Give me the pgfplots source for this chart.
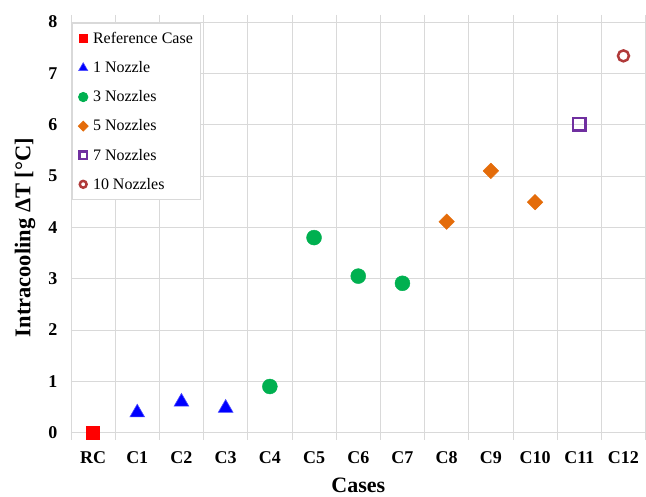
\documentclass[border=0pt]{standalone}
\usepackage{fontspec}
\setmainfont{Liberation Serif}
\usepackage{pgfplots}
\pgfplotsset{compat=1.18}
\definecolor{gridc}{HTML}{D9D9D9}
\definecolor{cred}{HTML}{FF0000}
\definecolor{cblue}{HTML}{0000FF}
\definecolor{cgreen}{HTML}{00B050}
\definecolor{corange}{HTML}{E46C0A}
\definecolor{cpurple}{HTML}{7030A0}
\definecolor{cbrown}{HTML}{B03A3A}
\begin{document}
\begin{tikzpicture}
\begin{axis}[
  scale only axis,
  width=575pt, height=411pt,
  xmin=-0.5, xmax=12.5, ymin=0, ymax=8,
  xtick={0,...,12},
  xticklabels={RC,C1,C2,C3,C4,C5,C6,C7,C8,C9,C10,C11,C12},
  minor xtick={-0.5,0.5,...,12.5},
  ytick={0,...,8},
  xminorgrids=true, ymajorgrids=true,
  grid style={gridc, line width=0.9pt},
  minor grid style={gridc, line width=0.9pt},
  axis line style={draw=gridc, line width=0.9pt},
  major tick length=0pt,
  minor tick length=7pt,
  tick align=outside,
  minor tick style={gridc, line width=0.9pt},
  every tick/.style={gridc},
  xticklabel style={font=\fontsize{18}{21}\selectfont\bfseries, anchor=base, yshift=-31pt},
  yticklabel style={font=\fontsize{18}{21}\selectfont\bfseries, xshift=-10pt},
  /pgf/number format/assume math mode=true,
  xlabel={Cases},
  ylabel={Intracooling ΔT [°C]},
  xlabel style={font=\fontsize{22}{26}\selectfont\bfseries, at={([yshift=-60pt]rel axis cs:0.5,0)}, anchor=base},
  ylabel style={font=\fontsize{22.5}{26}\selectfont\bfseries, at={([xshift=-46pt]rel axis cs:0,0.475)}, anchor=center},
  legend style={at={(rel axis cs:0,1)}, anchor=north west, draw=gridc, line width=0.9pt,
    fill=white, font=\fontsize{16}{19}\selectfont, row sep=12.5pt,
    inner xsep=6pt, inner ysep=7pt, xshift=1pt, yshift=-1pt},
  legend cell align=left,
  legend image post style={/tikz/every mark/.append style={scale=0.62}},
  clip=false,
]
\addplot[only marks, mark=square*, mark size=6.5pt, color=cred] coordinates {(0,0)};
\addlegendentry{\hspace{3pt}Reference Case\hspace{4pt}}
\addplot[only marks, mark=triangle*, mark size=8.5pt, color=cblue, mark options={draw=cblue!70!white, line width=0.6pt}] coordinates {(1,0.39) (2,0.60) (3,0.48)};
\addlegendentry{\hspace{3pt}1 Nozzle}
\addplot[only marks, mark=*, mark size=7.5pt, color=cgreen] coordinates {(4,0.90) (5,3.80) (6,3.05) (7,2.91)};
\addlegendentry{\hspace{3pt}3 Nozzles}
\addplot[only marks, mark=square*, mark size=5.5pt, color=corange, mark options={rotate=45}] coordinates {(8,4.11) (9,5.10) (10,4.49)};
\addlegendentry{\hspace{3pt}5 Nozzles}
\addplot[only marks, mark=square, mark size=6.3pt, color=cpurple, mark options={line width=2.6pt}] coordinates {(11,6.01)};
\addlegendentry{\hspace{3pt}7 Nozzles}
\addplot[only marks, mark=o, mark size=5.5pt, color=cbrown, mark options={line width=2.5pt}] coordinates {(12,7.34)};
\addlegendentry{\hspace{3pt}10 Nozzles}
\end{axis}
\path ([xshift=-71pt,yshift=-63pt]current axis.south west) rectangle ++(646pt,496pt);
\end{tikzpicture}
\end{document}
